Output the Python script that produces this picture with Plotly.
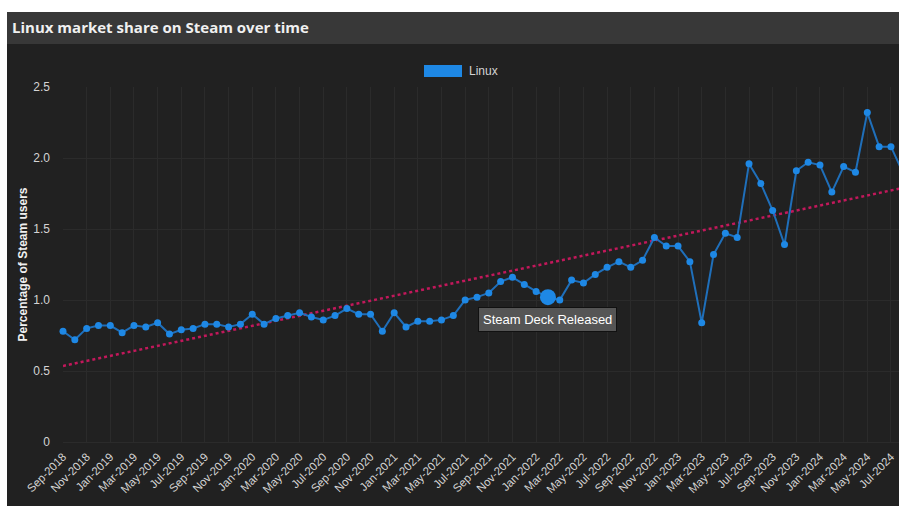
import numpy as np
import plotly.graph_objects as go

# ---------------- data ----------------
months = [
    "Sep-2018", "Oct-2018", "Nov-2018", "Dec-2018",
    "Jan-2019", "Feb-2019", "Mar-2019", "Apr-2019", "May-2019", "Jun-2019",
    "Jul-2019", "Aug-2019", "Sep-2019", "Oct-2019", "Nov-2019", "Dec-2019",
    "Jan-2020", "Feb-2020", "Mar-2020", "Apr-2020", "May-2020", "Jun-2020",
    "Jul-2020", "Aug-2020", "Sep-2020", "Oct-2020", "Nov-2020", "Dec-2020",
    "Jan-2021", "Feb-2021", "Mar-2021", "Apr-2021", "May-2021", "Jun-2021",
    "Jul-2021", "Aug-2021", "Sep-2021", "Oct-2021", "Nov-2021", "Dec-2021",
    "Jan-2022", "Feb-2022", "Mar-2022", "Apr-2022", "May-2022", "Jun-2022",
    "Jul-2022", "Aug-2022", "Sep-2022", "Oct-2022", "Nov-2022", "Dec-2022",
    "Jan-2023", "Feb-2023", "Mar-2023", "Apr-2023", "May-2023", "Jun-2023",
    "Jul-2023", "Aug-2023", "Sep-2023", "Oct-2023", "Nov-2023", "Dec-2023",
    "Jan-2024", "Feb-2024", "Mar-2024", "Apr-2024", "May-2024", "Jun-2024",
    "Jul-2024", "Aug-2024",
]
linux_share = [
    0.78, 0.72, 0.80, 0.82, 0.82, 0.77, 0.82, 0.81, 0.84, 0.76,
    0.79, 0.80, 0.83, 0.83, 0.81, 0.83, 0.90, 0.83, 0.87, 0.89,
    0.91, 0.88, 0.86, 0.89, 0.94, 0.90, 0.90, 0.78, 0.91, 0.81,
    0.85, 0.85, 0.86, 0.89, 1.00, 1.02, 1.05, 1.13, 1.16, 1.11,
    1.06, 1.02, 1.00, 1.14, 1.12, 1.18, 1.23, 1.27, 1.23, 1.28,
    1.44, 1.38, 1.38, 1.27, 0.84, 1.32, 1.47, 1.44, 1.96, 1.82,
    1.63, 1.39, 1.91, 1.97, 1.95, 1.76, 1.94, 1.90, 2.32, 2.08,
    2.08, 1.90,
]
x_tick_labels = months[::2]
y_tick_values = [0, 0.5, 1.0, 1.5, 2.0, 2.5]
y_tick_labels = ["0", "0.5", "1.0", "1.5", "2.0", "2.5"]
event_month = "Feb-2022"
event_label = "Steam Deck Released"
series_name = "Linux"
title_text = "Linux market share on Steam over time"
y_title = "Percentage of Steam users"

# linear trend (least squares over the series)
idx = np.arange(len(linux_share))
slope, intercept = np.polyfit(idx, linux_share, 1)
trend = (intercept + slope * idx).tolist()

# ---------------- layout geometry (pixels) ----------------
W, H = 899, 506
L, R, T, B = 63, 0, 87, 64
PW, PH = W - L - R, H - T - B


def px(x):
    return (x - L) / PW


def py(y):
    return (H - B - y) / PH


BLUE = "#1e88e5"
LINE_BLUE = "#1f6fba"
TREND = "#c2185b"
BG = "#212121"
BAR = "#383838"
GRID = "#2b2b2b"
TXT = "#d4d4d4"

fig = go.Figure()

fig.add_trace(go.Scatter(
    x=months, y=trend, mode="lines",
    line=dict(color=TREND, width=2.5, dash="dot"),
    hoverinfo="skip", showlegend=False,
))
fig.add_trace(go.Scatter(
    x=months, y=linux_share, mode="lines+markers", name=series_name,
    line=dict(color=LINE_BLUE, width=2),
    marker=dict(color=BLUE, size=7),
    cliponaxis=False, showlegend=False,
))
ev_i = months.index(event_month)
fig.add_trace(go.Scatter(
    x=[event_month], y=[linux_share[ev_i]], mode="markers",
    marker=dict(color=BLUE, size=16),
    cliponaxis=False, showlegend=False,
))

shapes = [
    # dark card background
    dict(type="rect", xref="paper", yref="paper", layer="below",
         x0=px(7), x1=px(W + 5), y0=py(44), y1=py(H + 5),
         fillcolor=BG, line=dict(width=0)),
    # title bar
    dict(type="rect", xref="paper", yref="paper", layer="below",
         x0=px(7), x1=px(W + 5), y0=py(12), y1=py(44),
         fillcolor=BAR, line=dict(width=0)),
    # legend box
    dict(type="rect", xref="paper", yref="paper",
         x0=px(424), x1=px(462), y0=py(65), y1=py(77),
         fillcolor=BLUE, line=dict(width=0)),
]

annotations = [
    dict(text=title_text, xref="paper", yref="paper", x=px(10), y=py(27),
         xanchor="left", yanchor="middle", showarrow=False,
         font=dict(family="Open Sans", size=15, color="#f0f0f0", weight="bold")),
    dict(text=series_name, xref="paper", yref="paper", x=px(467), y=py(71),
         xanchor="left", yanchor="middle", showarrow=False,
         font=dict(family="Liberation Sans", size=12, color=TXT)),
    dict(text=event_label, x=event_month, y=linux_share[ev_i],
         xref="x", yref="y", xanchor="center", yanchor="top", yshift=-10,
         showarrow=False, bgcolor="#555555", bordercolor="#111111",
         borderwidth=1, borderpad=4,
         font=dict(family="Liberation Sans", size=13, color="#ffffff")),
]

fig.update_layout(
    width=W, height=H,
    margin=dict(l=L, r=R, t=T, b=B, pad=0),
    paper_bgcolor="#ffffff", plot_bgcolor=BG,
    shapes=shapes, annotations=annotations,
    showlegend=False,
    xaxis=dict(
        type="category", range=[0, 70.68],
        tickmode="array", tickvals=x_tick_labels, ticktext=x_tick_labels,
        tickangle=-45, ticks="", ticklabelstandoff=5,
        showgrid=True, gridcolor=GRID, gridwidth=1,
        zeroline=False, showline=False, automargin=False,
        tickfont=dict(family="Liberation Sans", size=11.5, color=TXT),
    ),
    yaxis=dict(
        range=[0, 2.5],
        tickmode="array", tickvals=y_tick_values, ticktext=y_tick_labels,
        ticks="", ticklabelstandoff=12,
        showgrid=True, gridcolor=GRID, gridwidth=1,
        zeroline=True, zerolinecolor=GRID, zerolinewidth=1,
        showline=False, automargin=False,
        tickfont=dict(family="Liberation Sans", size=12, color=TXT),
        title=dict(text=y_title, standoff=3,
                   font=dict(family="Liberation Sans", size=12, color="#f0f0f0",
                             weight="bold")),
    ),
)

fig.write_html(
    "out.html",
    config={"displayModeBar": False},
    post_script="document.body.style.margin='0';document.body.style.overflow='hidden';",
)
